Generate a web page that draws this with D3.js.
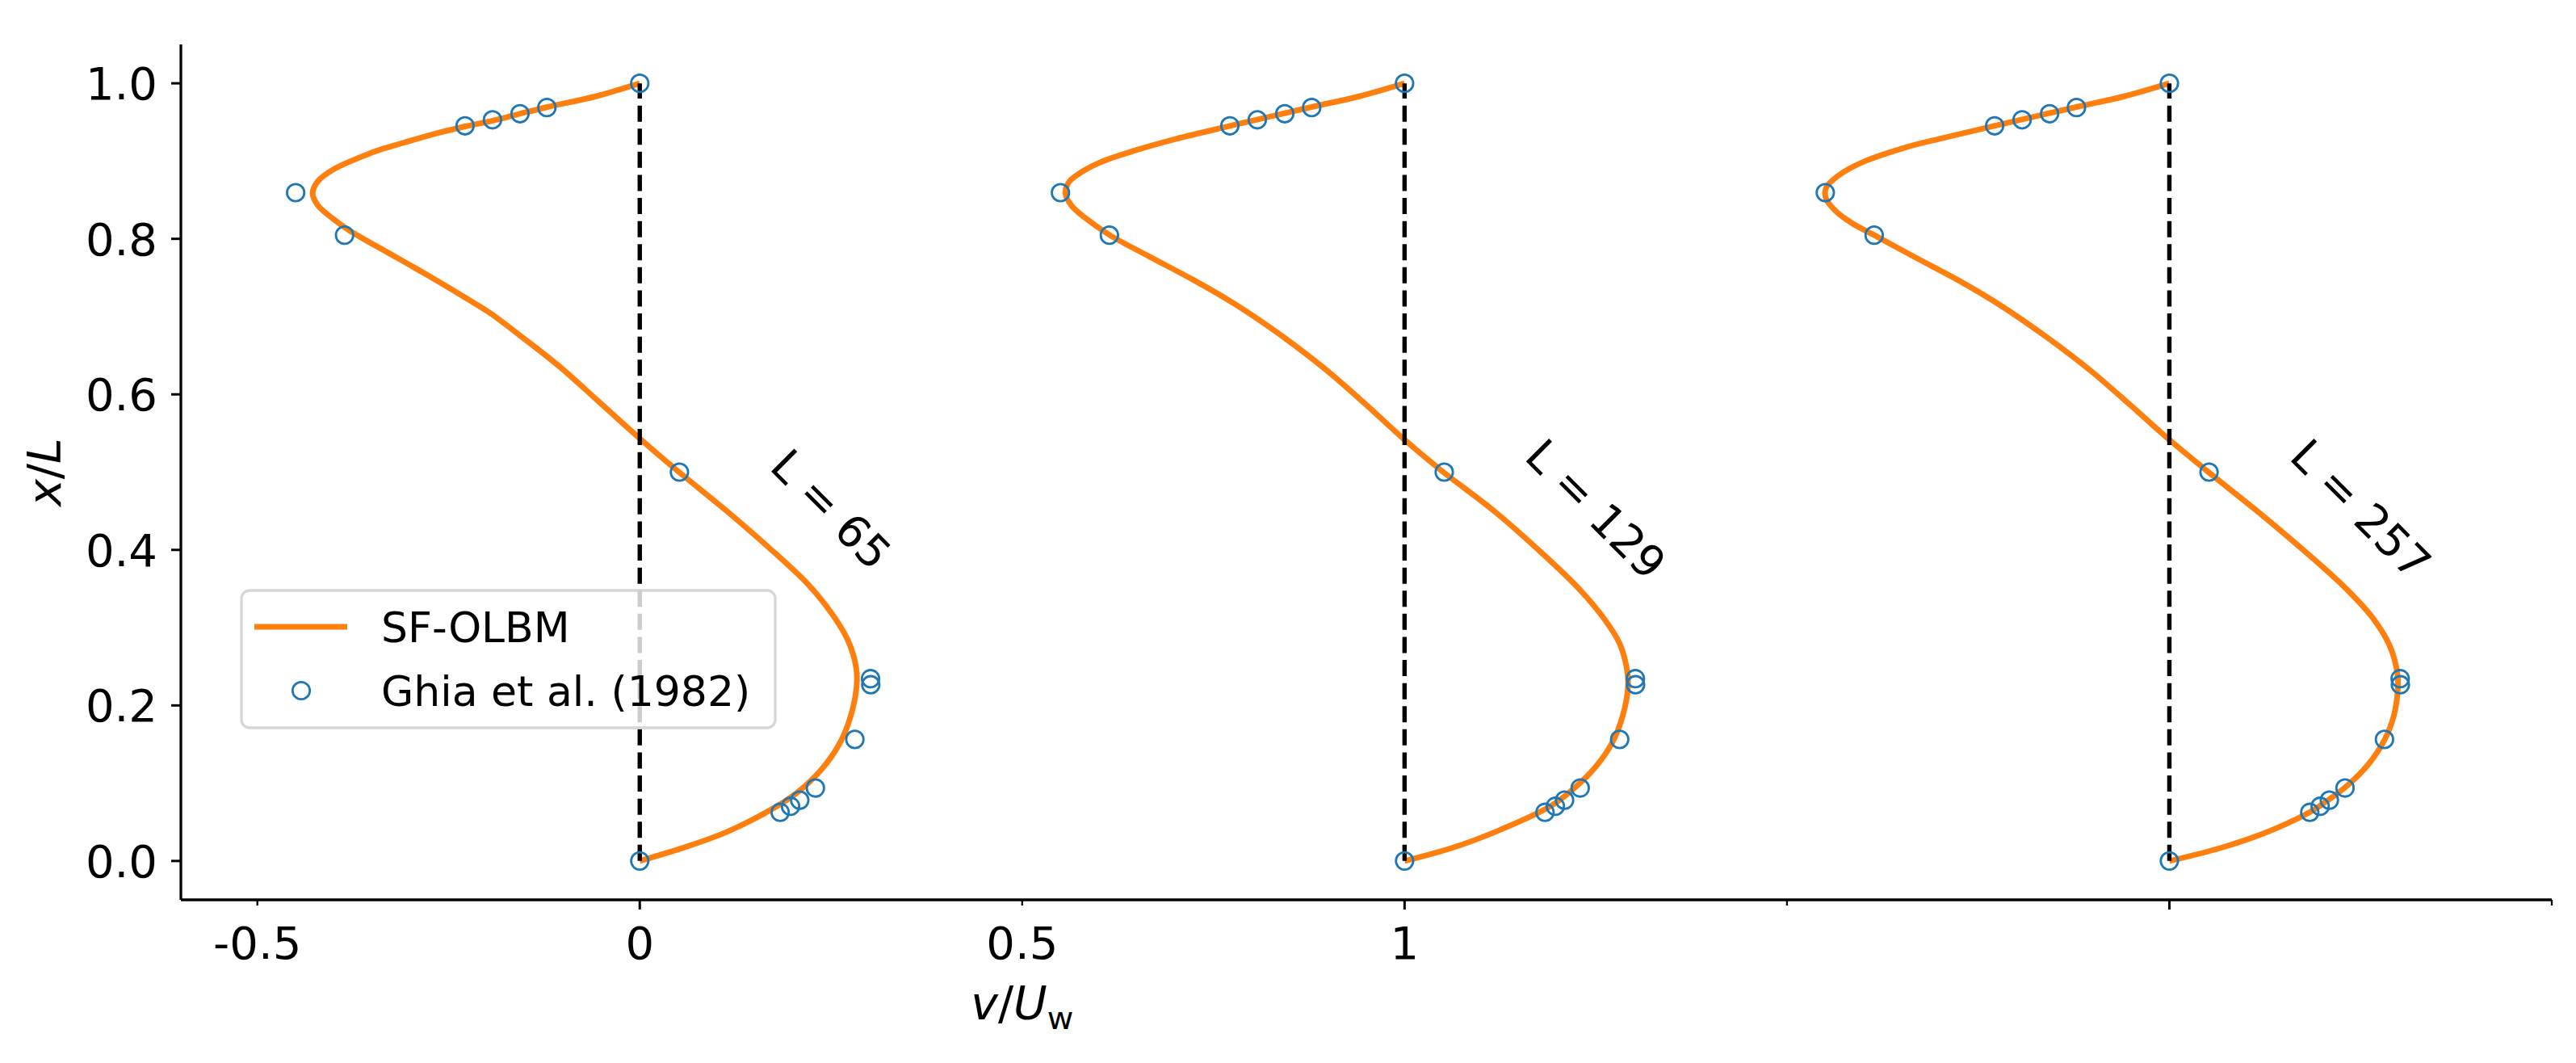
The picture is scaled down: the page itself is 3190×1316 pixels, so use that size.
<!DOCTYPE html>
<html>
<head>
<meta charset="utf-8">
<script src="https://cdn.jsdelivr.net/npm/d3@7"></script>
<style>
  html, body { margin: 0; padding: 0; background: #ffffff; }
  svg { display: block; }
  text { font-family: "DejaVu Sans", sans-serif; fill: #000; }
</style>
</head>
<body>
<svg id="chart" width="3190" height="1316"></svg>
<script>
// ---------------- data ----------------
const categories = ["L = 65", "L = 129", "L = 257"];
const offsets = [0, 1, 2];

// Ghia et al. (1982), Re = 400, v along horizontal centreline
const ghiaX = [1.0000, 0.9688, 0.9609, 0.9531, 0.9453, 0.8594, 0.8047, 0.5000,
               0.2344, 0.2266, 0.1563, 0.0938, 0.0781, 0.0703, 0.0625, 0.0000];
const ghiaV = [0.0, -0.12146, -0.15663, -0.19254, -0.22847, -0.44993, -0.38598, 0.05186,
               0.30174, 0.30203, 0.28124, 0.22965, 0.20920, 0.19713, 0.18360, 0.0];

// SF-OLBM profiles as [v, x/L]
const olbm65 = [[0,1],[-0.0584,0.983],[-0.1207,0.9695],[-0.156,0.961],[-0.192,0.952],[-0.228,0.9446],
  [-0.266,0.9356],[-0.308,0.9238],[-0.336,0.9158],[-0.3645,0.9054],[-0.3997,0.8898],[-0.4208,0.8742],
  [-0.4278,0.8586],[-0.4208,0.843],[-0.4032,0.8274],[-0.3786,0.810],[-0.336,0.786],[-0.280,0.7547],
  [-0.2237,0.7217],[-0.1956,0.7045],[-0.1534,0.6733],[-0.104,0.635],[-0.0549,0.5918],[0,0.5433],
  [0.0471,0.5035],[0.114,0.4498],[0.1668,0.4047],[0.2195,0.3562],[0.2512,0.318],[0.2723,0.2834],
  [0.2829,0.2488],[0.2835,0.2245],[0.2758,0.1864],[0.2617,0.1518],[0.2372,0.1172],[0.2055,0.0877],
  [0.1702,0.0652],[0.114,0.0374],[0.0612,0.0184],[0,0]];
const olbm129 = [[0,1],[-0.06,0.983],[-0.1216,0.9695],[-0.2282,0.9452],[-0.2985,0.9286],[-0.3512,0.914],
  [-0.3935,0.9002],[-0.4216,0.8864],[-0.4393,0.8725],[-0.4435,0.8586],[-0.4357,0.843],[-0.4182,0.8274],
  [-0.3858,0.805],[-0.3337,0.7772],[-0.2774,0.7478],[-0.2282,0.72],[-0.1929,0.6975],[-0.1578,0.6733],
  [-0.105,0.6334],[-0.0522,0.5884],[0,0.5416],[0.0462,0.5035],[0.117,0.45],[0.175,0.40],[0.228,0.35],
  [0.262,0.31],[0.281,0.28],[0.291,0.245],[0.292,0.222],[0.285,0.186],[0.272,0.153],[0.249,0.12],
  [0.22,0.092],[0.19,0.07],[0.125,0.04],[0.066,0.018],[0,0]];
const olbm257 = [[0,1],[-0.06,0.983],[-0.1217,0.9695],[-0.229,0.9452],[-0.2958,0.9297],[-0.3486,0.9165],
  [-0.4014,0.8985],[-0.433,0.8812],[-0.4489,0.8656],[-0.4489,0.8517],[-0.4366,0.8361],[-0.4155,0.8205],
  [-0.3863,0.805],[-0.331,0.7755],[-0.2747,0.746],[-0.2185,0.713],[-0.1551,0.6698],[-0.1024,0.63],
  [-0.0496,0.585],[0,0.5416],[0.0489,0.5018],[0.1193,0.4463],[0.1897,0.3874],[0.2319,0.3493],
  [0.267,0.3111],[0.2882,0.2765],[0.298,0.2419],[0.2987,0.2211],[0.2934,0.1864],[0.2811,0.1552],
  [0.26,0.124],[0.2319,0.0964],[0.2037,0.0756],[0.183,0.0625],[0.13,0.038],[0.068,0.017],[0,0]];
const olbmProfiles = [olbm65, olbm129, olbm257];

const xMajorTicks = [0, 1, 2];
const xMinorTicks = [-0.5, 0.5, 1.5, 2.5];
const xTickLabels = [[-0.5, "-0.5"], [0, "0"], [0.5, "0.5"], [1, "1"]];
const yTicks = [0, 0.2, 0.4, 0.6, 0.8, 1.0];
const labelPos = [0.25, 0.452];   // label position relative to each profile origin

// ---------------- layout ----------------
const svg = d3.select("#chart");
const mLeft = 224, mRight = 3160, mTop = 55, mBottom = 1114;
const x = d3.scaleLinear().domain([-0.6, 2.5]).range([mLeft, mRight]);
const y = d3.scaleLinear().domain([-0.05, 1.05]).range([mBottom, mTop]);
const FS_TICK = 56, FS_LAB = 55, FS_TITLE = 57, FS_LEG = 52;
const orange = "#ff7f0e", blue = "#1f77b4";

// profiles
const line = d3.line().curve(d3.curveCatmullRom.alpha(0.5));
const gCurves = svg.append("g");
olbmProfiles.forEach((prof, i) => {
  gCurves.append("path")
    .attr("d", line(prof.map(p => [x(p[0] + offsets[i]), y(p[1])])))
    .attr("fill", "none").attr("stroke", orange).attr("stroke-width", 7)
    .attr("stroke-linejoin", "round").attr("stroke-linecap", "butt");
});

// dashed reference lines
offsets.forEach(o => {
  svg.append("line")
    .attr("x1", x(o)).attr("x2", x(o)).attr("y1", y(0)).attr("y2", y(1))
    .attr("stroke", "#000").attr("stroke-width", 5.4)
    .attr("stroke-dasharray", "20 8.6");
});

// Ghia points
offsets.forEach(o => {
  svg.append("g").selectAll("circle").data(ghiaX).join("circle")
    .attr("cx", (d, j) => x(ghiaV[j] + o))
    .attr("cy", d => y(d))
    .attr("r", 10.7)
    .attr("fill", "none").attr("stroke", blue).attr("stroke-width", 2.8);
});

// rotated labels
categories.forEach((c, i) => {
  const px = x(offsets[i] + labelPos[0]), py = y(labelPos[1]);
  svg.append("text")
    .attr("transform", `translate(${px},${py}) rotate(45)`)
    .attr("text-anchor", "middle").attr("dominant-baseline", "central")
    .attr("font-size", FS_LAB).text(c);
});

// axes
const xAxis = svg.append("g").attr("transform", `translate(0,${mBottom})`);
xAxis.append("line").attr("x1", mLeft).attr("x2", mRight).attr("y1", 0).attr("y2", 0)
  .attr("stroke", "#000").attr("stroke-width", 3.3);
xAxis.selectAll("line.maj").data(xMajorTicks).join("line").attr("class", "maj")
  .attr("x1", d => x(d)).attr("x2", d => x(d)).attr("y1", 0).attr("y2", 12)
  .attr("stroke", "#000").attr("stroke-width", 3);
xAxis.selectAll("line.min").data(xMinorTicks).join("line").attr("class", "min")
  .attr("x1", d => x(d)).attr("x2", d => x(d)).attr("y1", 0).attr("y2", 7)
  .attr("stroke", "#000").attr("stroke-width", 2.3);
xAxis.selectAll("text").data(xTickLabels).join("text")
  .attr("x", d => x(d[0])).attr("y", 73)
  .attr("text-anchor", "middle").attr("font-size", FS_TICK).text(d => d[1]);

const yAxis = svg.append("g").attr("transform", `translate(${mLeft},0)`);
yAxis.append("line").attr("x1", 0).attr("x2", 0).attr("y1", mTop).attr("y2", mBottom)
  .attr("stroke", "#000").attr("stroke-width", 3.3);
yAxis.selectAll("line.t").data(yTicks).join("line").attr("class", "t")
  .attr("x1", -12).attr("x2", 0).attr("y1", d => y(d)).attr("y2", d => y(d))
  .attr("stroke", "#000").attr("stroke-width", 3);
yAxis.selectAll("text").data(yTicks).join("text")
  .attr("x", -29).attr("y", d => y(d)).attr("dy", "0.36em")
  .attr("text-anchor", "end").attr("font-size", FS_TICK).text(d => d.toFixed(1));

// axis titles
const xl = svg.append("text").attr("x", x(0.5)).attr("y", 1262)
  .attr("text-anchor", "middle").attr("font-size", FS_TITLE);
xl.append("tspan").attr("font-style", "italic").text("v");
xl.append("tspan").text("/");
xl.append("tspan").attr("font-style", "italic").text("U");
xl.append("tspan").attr("font-size", FS_TITLE * 0.7).attr("dy", 12).text("w");

const yl = svg.append("text")
  .attr("transform", `translate(55,${(mTop + mBottom) / 2}) rotate(-90)`)
  .attr("text-anchor", "middle").attr("dominant-baseline", "central").attr("font-size", FS_TITLE);
yl.append("tspan").attr("font-style", "italic").text("x");
yl.append("tspan").text("/");
yl.append("tspan").attr("font-style", "italic").text("L");

// legend
const lg = svg.append("g");
lg.append("rect").attr("x", 299).attr("y", 731).attr("width", 661).attr("height", 170)
  .attr("rx", 10).attr("fill", "#fff").attr("fill-opacity", 0.8)
  .attr("stroke", "#cccccc").attr("stroke-opacity", 0.8).attr("stroke-width", 3.3);
lg.append("line").attr("x1", 315).attr("x2", 430).attr("y1", 776).attr("y2", 776)
  .attr("stroke", orange).attr("stroke-width", 7);
lg.append("circle").attr("cx", 373).attr("cy", 855).attr("r", 10.7)
  .attr("fill", "none").attr("stroke", blue).attr("stroke-width", 2.8);
lg.append("text").attr("x", 472).attr("y", 776).attr("dy", "0.36em")
  .attr("font-size", FS_LEG).text("SF-OLBM");
lg.append("text").attr("x", 472).attr("y", 855).attr("dy", "0.36em")
  .attr("font-size", FS_LEG).text("Ghia et al. (1982)");
</script>
</body>
</html>
